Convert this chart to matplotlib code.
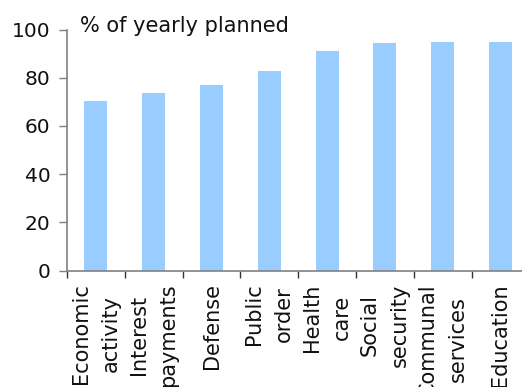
import matplotlib
matplotlib.use("Agg")
import matplotlib.pyplot as plt
import numpy as np

categories = ["Economic\nactivity", "Interest\npayments", "Defense", "Public\norder",
              "Health\ncare", "Social\nsecurity", "Communal\nservices", "Education"]
values = [70.4, 73.7, 77.0, 82.9, 91.2, 94.5, 94.9, 94.9]
yticks = [0, 20, 40, 60, 80, 100]
title = "% of yearly planned"

plt.rcParams['font.family'] = ['DejaVu Sans']
fig = plt.figure(figsize=(5.22, 3.87), dpi=100)
W, H = 522, 387
ax = fig.add_axes([67 / W, (H - 270.7) / H, 462.4 / W, 241.2 / H])

x = np.arange(len(categories))
ax.bar(x, values, width=0.4, color="#99CCFF", zorder=2)
ax.set_xlim(-0.5, len(categories) - 0.5)
ax.set_ylim(0, 100)
ax.set_yticks(yticks)
ax.set_yticklabels([str(v) for v in yticks], fontsize=14.5, color="#111111")

ax.set_xticks(x)
ax.set_xticklabels(categories, rotation=90, fontsize=15, ha="center", va="top",
                   multialignment="center", linespacing=1.6, color="#111111")
ax.set_xticks(np.arange(-0.5, len(categories) - 0.4, 1), minor=True)
ax.tick_params(axis="x", which="major", length=0, pad=9)
ax.tick_params(axis="x", which="minor", length=5, width=1, color="#333333", direction="out")
ax.tick_params(axis="y", length=6, width=1, color="#808080", direction="out", pad=6)

for s in ["top", "right"]:
    ax.spines[s].set_visible(False)
for s in ["left", "bottom"]:
    ax.spines[s].set_color("#808080")
    ax.spines[s].set_linewidth(1.2)

ax.text(80 / W, (H - 31.7) / H, title, transform=fig.transFigure, fontsize=15,
        ha="left", va="baseline", color="#111111")

fig.savefig("out.png", dpi=100)
